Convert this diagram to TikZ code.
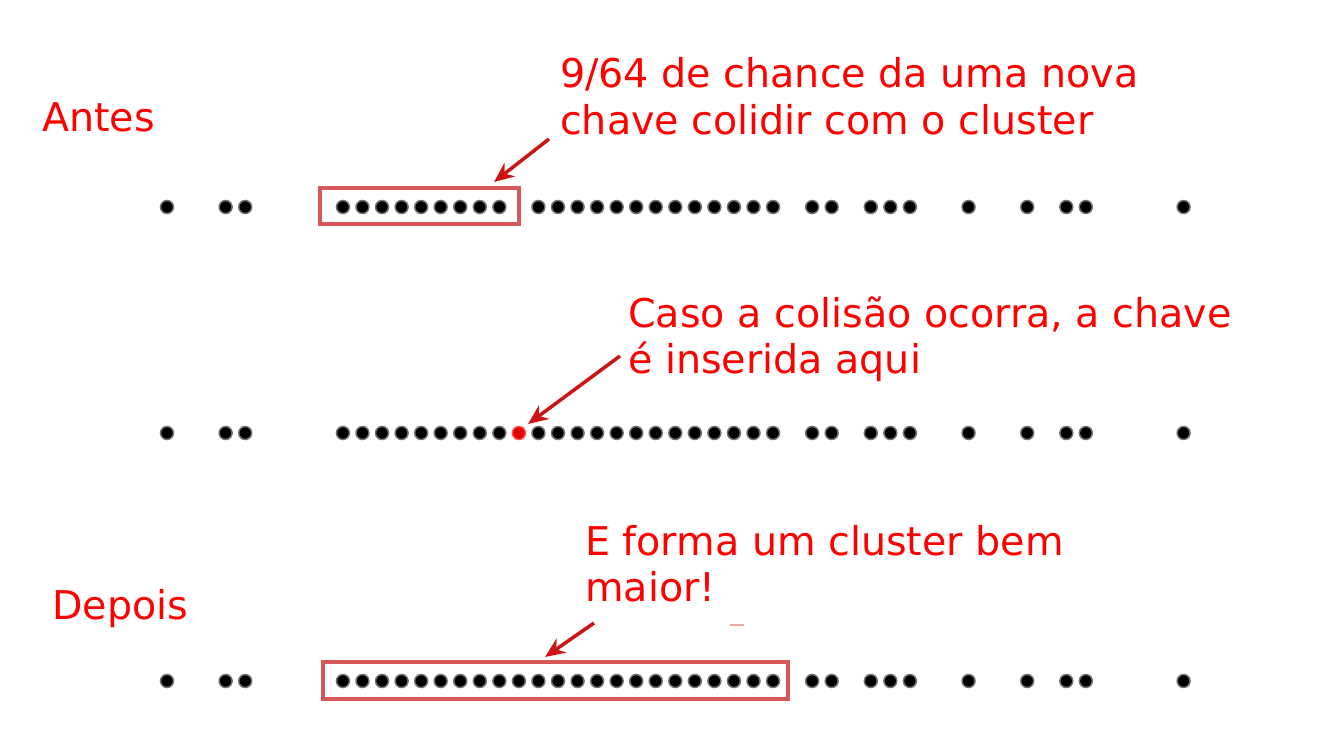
\documentclass[tikz,border=0pt]{standalone}
\usepackage{fontspec}
\setmainfont{DejaVu Sans}
\usetikzlibrary{arrows.meta}
\definecolor{txtred}{RGB}{255,0,0}
\definecolor{boxred}{RGB}{214,88,88}
\definecolor{arrred}{RGB}{205,20,20}
\definecolor{faintred}{RGB}{240,170,170}
\tikzset{
  lbl/.style={anchor=base west, inner sep=0pt, text=txtred, font=\fontsize{39.6}{48}\selectfont},
  keydot/.style={circle, fill=black, draw=black!55, line width=1.5pt, minimum size=13pt, inner sep=0pt},
  newdot/.style={circle, fill=red!90!black, draw=red!70, line width=1.5pt, minimum size=13pt, inner sep=0pt},
  clusterbox/.style={draw=boxred, line width=3.5pt, inner sep=0pt},
  callout/.style={draw=arrred, line width=3.5pt, -{Stealth[length=20pt,width=17pt]}}
}
\begin{document}
\begin{tikzpicture}[x=1pt,y=-1pt]
\useasboundingbox (0,0) rectangle (1322,754);
% labels
\node[lbl] (antes) at (42,132) {Antes};
\node[lbl] (depois) at (52,619) {Depois};
\node[lbl] (t1a) at (560,88) {9/64 de chance da uma nova};
\node[lbl] (t1b) at (560,135) {chave colidir com o cluster};
\node[lbl] (t2a) at (628,327) {Caso a colisão ocorra, a chave};
\node[lbl] (t2b) at (628,373) {é inserida aqui};
\node[lbl] (t3a) at (585,555) {E forma um cluster bem};
\node[lbl] (t3b) at (585,601) {maior!};
% boxes
\node[clusterbox, minimum width=199pt, minimum height=36pt] (box1) at (419.5,206) {};
\node[clusterbox, minimum width=465pt, minimum height=37pt] (box3) at (555.5,680.5) {};
% dots
\foreach \k in {0,3,4,9,10,11,12,13,14,15,16,17,19,20,21,22,23,24,25,26,27,28,29,30,31,33,34,36,37,38,41,44,46,47,52}{
  \node[keydot] (a\k) at ({167+\k*19.55},207) {};
  \node[keydot] (b\k) at ({167+\k*19.55},433) {};
}
\node[newdot] (b18) at ({167+18*19.55},433) {};
\foreach \k in {0,3,4,9,10,11,12,13,14,15,16,17,18,19,20,21,22,23,24,25,26,27,28,29,30,31,33,34,36,37,38,41,44,46,47,52}{
  \node[keydot] (c\k) at ({167+\k*19.55},681) {};
}
% arrows
\coordinate (s1) at (549,139);
\coordinate (e1) at (494,182);
\draw[callout] (s1) -- (e1);
\coordinate (s2) at (620,356);
\coordinate (e2) at (528,424);
\draw[callout] (s2) -- (e2);
\coordinate (s3) at (594,623);
\coordinate (e3) at (545,657);
\draw[callout] (s3) -- (e3);
\coordinate (f1) at (730,625);
\coordinate (f2) at (744,625);
\draw[faintred, line width=2pt] (f1) -- (f2);
\end{tikzpicture}
\end{document}
